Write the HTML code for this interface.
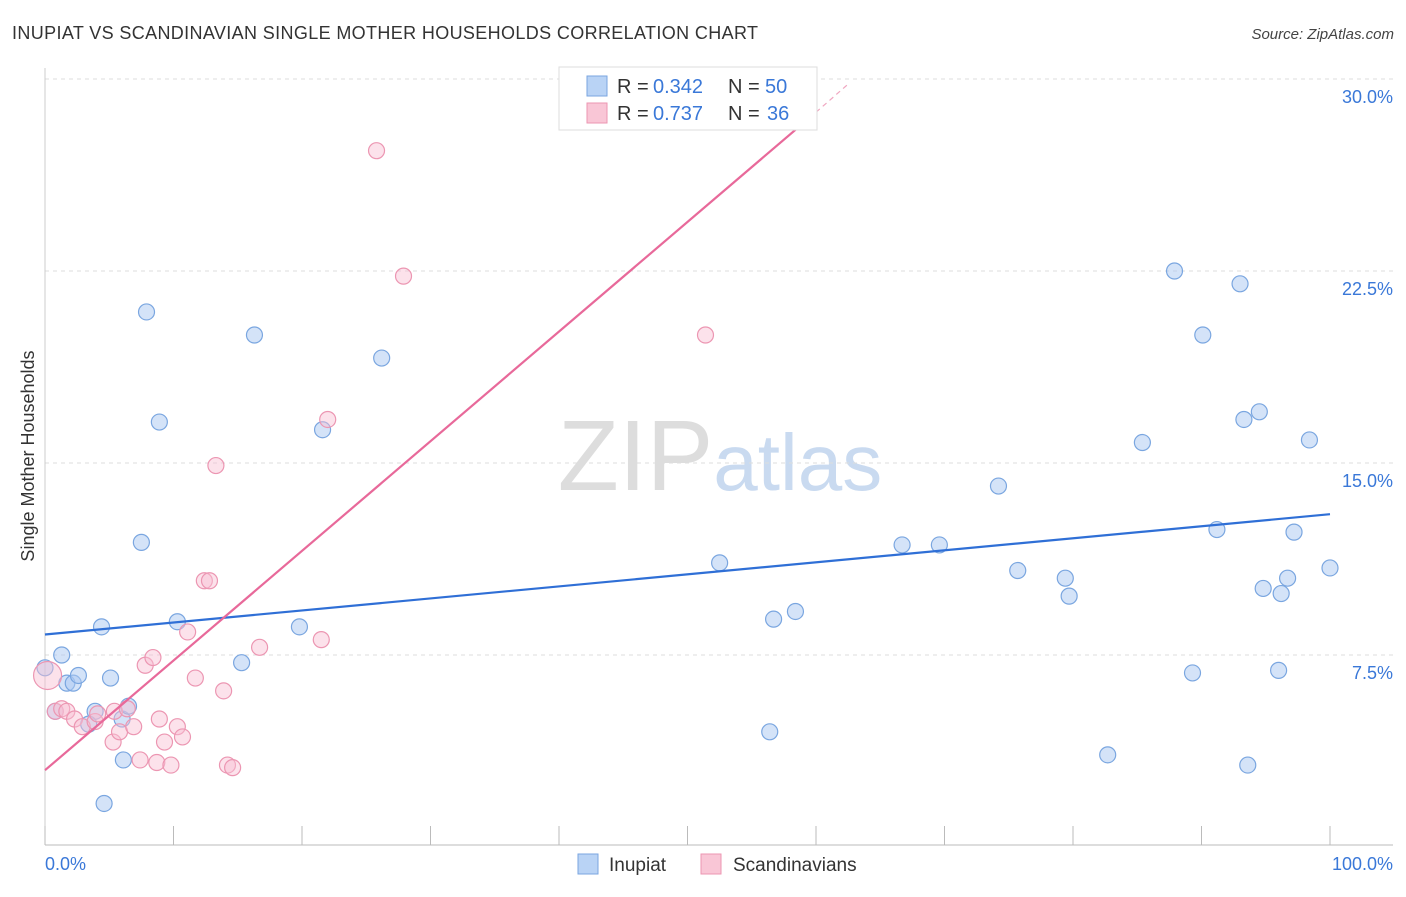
<!DOCTYPE html>
<html><head><meta charset="utf-8"><style>
body{margin:0;background:#fff;font-family:"Liberation Sans",sans-serif}
svg text{font-family:"Liberation Sans",sans-serif}
</style></head><body>
<svg width="1406" height="892" xmlns="http://www.w3.org/2000/svg" id="chart">
<text x="12" y="39" font-size="18" fill="#333" textLength="746">INUPIAT VS SCANDINAVIAN SINGLE MOTHER HOUSEHOLDS CORRELATION CHART</text>
<text x="1394" y="39" font-size="15" fill="#444" text-anchor="end" font-style="italic">Source: ZipAtlas.com</text>
<text x="720" y="490" font-size="100" text-anchor="middle" fill="#ddd" font-family="Liberation Serif">ZIP<tspan fill="#c9daf0" font-family="Liberation Sans" font-size="80">atlas</tspan></text>
<text transform="translate(34,456) rotate(-90)" font-size="18" fill="#333" text-anchor="middle">Single Mother Households</text>
<g id="grid"></g><g id="pts"></g><g id="lines"></g>
<g>
<rect x="559" y="67" width="258" height="63" fill="#fff" stroke="#ddd"/>
<rect x="587" y="76" width="20" height="20" fill="#b9d3f5" stroke="#7aa6e0"/>
<rect x="587" y="103" width="20" height="20" fill="#f9c6d6" stroke="#ec96b2"/>
<text x="617" y="93" font-size="20" fill="#333">R =</text>
<text x="653" y="93" font-size="20" fill="#3a78d8">0.342</text>
<text x="728" y="93" font-size="20" fill="#333">N =</text>
<text x="765" y="93" font-size="20" fill="#3a78d8">50</text>
<text x="617" y="120" font-size="20" fill="#333">R =</text>
<text x="653" y="120" font-size="20" fill="#3a78d8">0.737</text>
<text x="728" y="120" font-size="20" fill="#333">N =</text>
<text x="767" y="120" font-size="20" fill="#3a78d8">36</text>
</g>
<g>
<rect x="578" y="854" width="20" height="20" fill="#b9d3f5" stroke="#7aa6e0"/>
<text x="609" y="871" font-size="19" fill="#333">Inupiat</text>
<rect x="701" y="854" width="20" height="20" fill="#f9c6d6" stroke="#ec96b2"/>
<text x="733" y="871" font-size="19" fill="#333">Scandinavians</text>
</g>
</svg>
<script>
const yTicks=[7.5,15,22.5,30];
const yTickLabels=["7.5%","15.0%","22.5%","30.0%"];
const xTickLabels=["0.0%","100.0%"];
const inupiatX=[0,1.3,1.7,2.2,2.6,0.8,4.4,5.1,3.9,3.4,6.0,6.5,6.1,4.6,7.9,8.9,7.5,10.3,16.3,15.3,19.8,21.6,26.2,52.5,56.7,58.4,56.4,66.7,69.6,74.2,75.7,79.4,79.7,82.7,85.4,87.9,89.3,90.1,91.2,93.0,93.3,94.5,94.8,96.2,96.7,96.0,93.6,97.2,98.4,100];
const inupiatY=[7.0,7.5,6.4,6.4,6.7,5.3,8.6,6.6,5.3,4.8,5.0,5.5,3.4,1.7,20.9,16.6,11.9,8.8,20.0,7.2,8.6,16.3,19.1,11.1,8.9,9.2,4.5,11.8,11.8,14.1,10.8,10.5,9.8,3.6,15.8,22.5,6.8,20.0,12.4,22.0,16.7,17.0,10.1,9.9,10.5,6.9,3.2,12.3,15.9,10.9];
const scandX=[0.2,0.8,1.3,1.7,2.3,2.9,3.9,5.4,6.4,5.3,5.8,6.9,7.4,7.8,8.4,8.7,9.3,9.8,10.3,10.7,11.1,11.7,12.4,12.8,13.3,13.9,14.2,14.6,16.7,21.5,22.0,25.8,27.9,51.4,8.9,4.1];
const scandY=[6.7,5.3,5.4,5.3,5.0,4.7,4.9,5.3,5.4,4.1,4.5,4.7,3.4,7.1,7.4,3.3,4.1,3.2,4.7,4.3,8.4,6.6,10.4,10.4,14.9,6.1,3.2,3.1,7.8,8.1,16.7,27.2,22.3,20.0,5.0,5.2];
const blueLine=[[0,8.3],[100,13.0]];
const pinkLine=[[0,3.0],[60,28.7],[62.5,29.8]];
const X=v=>45+v*12.85, Y=v=>847-v*25.6;
const NS="http://www.w3.org/2000/svg";
function mk(t,a,p){const e=document.createElementNS(NS,t);for(const k in a)e.setAttribute(k,a[k]);p.appendChild(e);return e;}
const g=document.getElementById('grid');
yTicks.forEach((t,i)=>{
 const l=mk('line',{x1:45,x2:1393,y1:Y(t),y2:Y(t),stroke:'#ddd','stroke-dasharray':'4,4'},g);
 
 
 const tx=mk('text',{x:1393,y:Y(t)+24,'font-size':18,fill:'#3a78d8','text-anchor':'end'},g);
 tx.textContent=yTickLabels[i];
 
 
});
const ax=mk('line',{x1:45,x2:1393,y1:845,y2:845,stroke:'#bbb'},g);


const ay=mk('line',{x1:45,x2:45,y1:68,y2:845,stroke:'#ccc'},g);


for(let i=0;i<=10;i++){
 const t=mk('line',{x1:X(i*10),x2:X(i*10),y1:826,y2:845,stroke:'#bbb'},g);
 
 
}
[[0,'start',45],[100,'end',1393]].forEach((d,i)=>{
 const tx=mk('text',{x:d[2],y:870,'font-size':18,fill:'#3a78d8','text-anchor':d[1]},g);
 tx.textContent=xTickLabels[i];
 
 
});
const p=document.getElementById('pts');
inupiatX.forEach((x,i)=>{
 const c=mk('circle',{cx:X(x),cy:Y(inupiatY[i]),r:8,fill:'rgba(170,200,242,0.5)',stroke:'#7aa6e0','stroke-width':1.2},p);
 
 
});
scandX.forEach((x,i)=>{
 const c=mk('circle',{cx:X(x),cy:Y(scandY[i]),r:i==0?14:8,fill:'rgba(248,190,210,0.45)',stroke:'#ec96b2','stroke-width':1.2},p);
 
 
});
const L=document.getElementById('lines');
const b=mk('line',{x1:X(blueLine[0][0]),y1:Y(blueLine[0][1]),x2:X(blueLine[1][0]),y2:Y(blueLine[1][1]),stroke:'#2f6fd6','stroke-width':2.2},L);


const pk=mk('line',{x1:X(pinkLine[0][0]),y1:Y(pinkLine[0][1]),x2:X(pinkLine[1][0]),y2:Y(pinkLine[1][1]),stroke:'#e8699a','stroke-width':2.2},L);


const pd=mk('line',{x1:X(pinkLine[1][0]),y1:Y(pinkLine[1][1]),x2:X(pinkLine[2][0]),y2:Y(pinkLine[2][1]),stroke:'#f0a6c0','stroke-width':1.2,'stroke-dasharray':'5,4'},L);


</script>
</body></html>
